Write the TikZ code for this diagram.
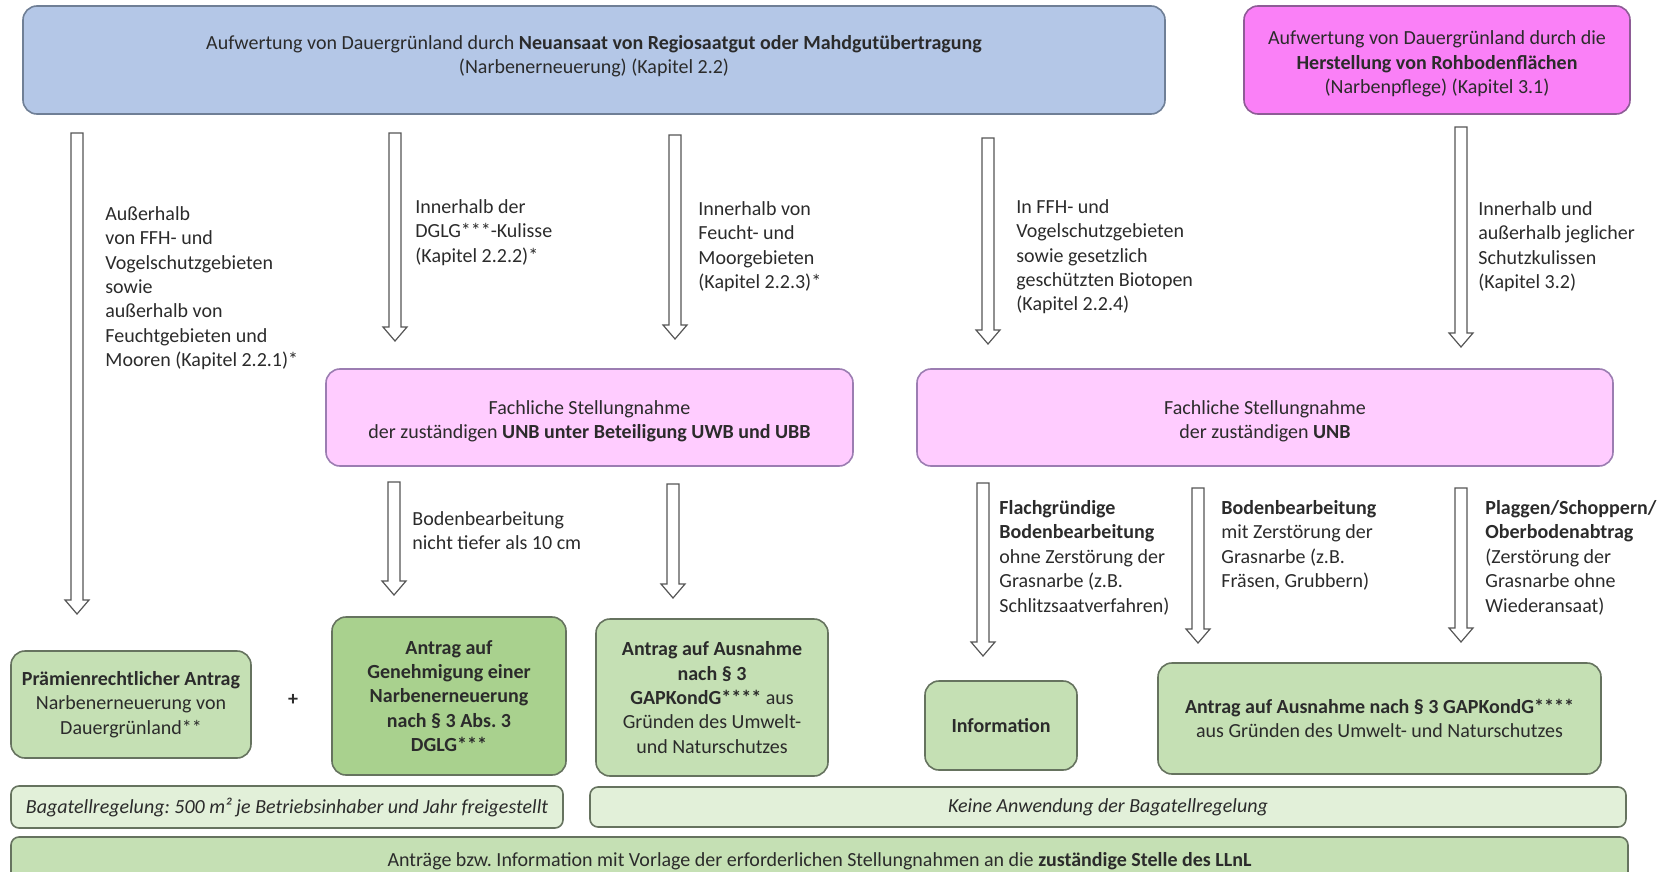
\documentclass[tikz,border=0pt]{standalone}
\usepackage{fontspec}
\setmainfont{Carlito}
\frenchspacing
\usetikzlibrary{calc}
\definecolor{txt}{HTML}{2B2B2B}
\definecolor{bluefill}{HTML}{B4C7E7}
\definecolor{blueline}{HTML}{6F7F96}
\definecolor{magfill}{HTML}{FA80F7}
\definecolor{magline}{HTML}{8E5C96}
\definecolor{pinkfill}{HTML}{FFCCFF}
\definecolor{pinkline}{HTML}{9C7DB2}
\definecolor{gfill}{HTML}{C5E0B4}
\definecolor{gdark}{HTML}{A9D18E}
\definecolor{glight}{HTML}{E2F0D9}
\definecolor{gline}{HTML}{66735F}
\definecolor{arrline}{HTML}{555555}
\tikzset{
  base/.style={font=\fontsize{10}{12.2}\selectfont, text=txt},
  box/.style={base, draw, line width=0.8pt, rounded corners=7pt, align=center, inner sep=0pt},
  bluebox/.style={box, draw=blueline, fill=bluefill},
  magbox/.style={box, draw=magline, fill=magfill},
  pinkbox/.style={box, draw=pinkline, fill=pinkfill},
  greenbox/.style={box, draw=gline, fill=gfill},
  darkbox/.style={box, draw=gline, fill=gdark},
  lightbox/.style={box, draw=gline, fill=glight, rounded corners=4pt},
  lbl/.style={base, anchor=north west, align=left, inner sep=0pt},
  plain/.style={base, align=center, inner sep=0pt},
  harr/.style={draw=arrline, fill=white, line width=0.6pt, line join=miter}
}
\newcommand\harrow[2]{%
  \draw[harr] let \p1=(#1), \p2=(#2) in
    (\x1-3pt,\y1) -- (\x1+3pt,\y1) -- (\x1+3pt,\y2+7pt) -- (\x1+6pt,\y2+7pt)
    -- (\x1,\y2) -- (\x1-6pt,\y2+7pt) -- (\x1-3pt,\y2+7pt) -- cycle;}
\begin{document}
\begin{tikzpicture}[x=0.5pt,y=-0.5pt]
\useasboundingbox (0,0) rectangle (1660,872);
% top boxes
\node[bluebox, minimum width=571pt, minimum height=54pt] (top) at (594,60) {};
\node[plain] (toptxt) at (594,56) {Aufwertung von Dauergrünland durch \textbf{Neuansaat von Regiosaatgut oder Mahdgutübertragung}\\(Narbenerneuerung) (Kapitel 2.2)};
\node[magbox, minimum width=193pt, minimum height=54pt] (mag) at (1437,60) {};
\node[plain] (magtxt) at (1437,64) {Aufwertung von Dauergrünland durch die\\\textbf{Herstellung von Rohbodenflächen}\\(Narbenpflege) (Kapitel 3.1)};
% upper arrows
\coordinate (a1s) at (77,133); \coordinate (a1e) at (77,614);
\coordinate (a2s) at (395,133); \coordinate (a2e) at (395,341);
\coordinate (a3s) at (675,135); \coordinate (a3e) at (675,339);
\coordinate (a4s) at (988,138); \coordinate (a4e) at (988,344);
\coordinate (a5s) at (1461,127); \coordinate (a5e) at (1461,347);
\harrow{a1s}{a1e}
\harrow{a2s}{a2e}
\harrow{a3s}{a3e}
\harrow{a4s}{a4e}
\harrow{a5s}{a5e}
\node[lbl] (l1) at (105,206) {Außerhalb\\von FFH- und\\Vogelschutzgebieten\\sowie\\außerhalb von\\Feuchtgebieten und\\Mooren (Kapitel 2.2.1)*};
\node[lbl] (l2) at (415,199) {Innerhalb der\\DGLG***-Kulisse\\(Kapitel 2.2.2)*};
\node[lbl] (l3) at (698,201) {Innerhalb von\\Feucht- und\\Moorgebieten\\(Kapitel 2.2.3)*};
\node[lbl] (l4) at (1016,199) {In FFH- und\\Vogelschutzgebieten\\sowie gesetzlich\\geschützten Biotopen\\(Kapitel 2.2.4)};
\node[lbl] (l5) at (1478,201) {Innerhalb und\\außerhalb jeglicher\\Schutzkulissen\\(Kapitel 3.2)};
% pink boxes
\node[pinkbox, minimum width=263.5pt, minimum height=48.5pt] (p1) at (589.5,417.5) {};
\node[plain] (p1txt) at (589.5,421.5) {Fachliche Stellungnahme\\der zuständigen \textbf{UNB unter Beteiligung UWB und UBB}};
\node[pinkbox, minimum width=348pt, minimum height=48.5pt] (p2) at (1265,417.5) {};
\node[plain] (p2txt) at (1265,421.5) {Fachliche Stellungnahme\\der zuständigen \textbf{UNB}};
% lower arrows
\coordinate (b1s) at (394,482); \coordinate (b1e) at (394,595);
\coordinate (b2s) at (673,484); \coordinate (b2e) at (673,598);
\coordinate (b3s) at (983,483); \coordinate (b3e) at (983,656);
\coordinate (b4s) at (1198,488); \coordinate (b4e) at (1198,643);
\coordinate (b5s) at (1461,488); \coordinate (b5e) at (1461,642);
\harrow{b1s}{b1e}
\harrow{b2s}{b2e}
\harrow{b3s}{b3e}
\harrow{b4s}{b4e}
\harrow{b5s}{b5e}
\node[lbl] (m1) at (412,511) {Bodenbearbeitung\\nicht tiefer als 10 cm};
\node[lbl] (m2) at (999,500) {\textbf{Flachgründige}\\\textbf{Bodenbearbeitung}\\ohne Zerstörung der\\Grasnarbe (z.B.\\Schlitzsaatverfahren)};
\node[lbl] (m3) at (1221,500) {\textbf{Bodenbearbeitung}\\mit Zerstörung der\\Grasnarbe (z.B.\\Fräsen, Grubbern)};
\node[lbl] (m4) at (1485,500) {\textbf{Plaggen/Schoppern/}\\\textbf{Oberbodenabtrag}\\(Zerstörung der\\Grasnarbe ohne\\Wiederansaat)};
% green boxes
\node[greenbox, minimum width=120pt, minimum height=53.5pt] (g1) at (131,704.5) {\textbf{Prämienrechtlicher Antrag}\\Narbenerneuerung von\\Dauergrünland**};
\node[plain] (plus) at (293,700) {\textbf{+}};
\node[darkbox, minimum width=117pt, minimum height=79pt] (g2) at (449,696) {\textbf{Antrag auf}\\\textbf{Genehmigung einer}\\\textbf{Narbenerneuerung}\\\textbf{nach § 3 Abs. 3}\\\textbf{DGLG***}};
\node[greenbox, minimum width=116pt, minimum height=78.5pt] (g3) at (712,697.5) {\textbf{Antrag auf Ausnahme}\\\textbf{nach § 3}\\\textbf{GAPKondG****} aus\\Gründen des Umwelt-\\und Naturschutzes};
\node[greenbox, minimum width=76pt, minimum height=44.5pt] (g4) at (1001,725.5) {\textbf{Information}};
\node[greenbox, minimum width=221.5pt, minimum height=55.5pt] (g5) at (1379.5,718.5) {\textbf{Antrag auf Ausnahme nach § 3 GAPKondG****}\\aus Gründen des Umwelt- und Naturschutzes};
% bottom bars
\node[lightbox, minimum width=276pt, minimum height=21pt] (bag) at (287,807) {\itshape Bagatellregelung: 500 m² je Betriebsinhaber und Jahr freigestellt};
\node[lightbox, minimum width=518pt, minimum height=20pt] (keine) at (1108,807) {\itshape Keine Anwendung der Bagatellregelung};
\node[greenbox, rounded corners=4pt, minimum width=808.5pt, minimum height=24pt] (bottom) at (819.5,861) {Anträge bzw. Information mit Vorlage der erforderlichen Stellungnahmen an die \textbf{zuständige Stelle des LLnL}};
\end{tikzpicture}
\end{document}
